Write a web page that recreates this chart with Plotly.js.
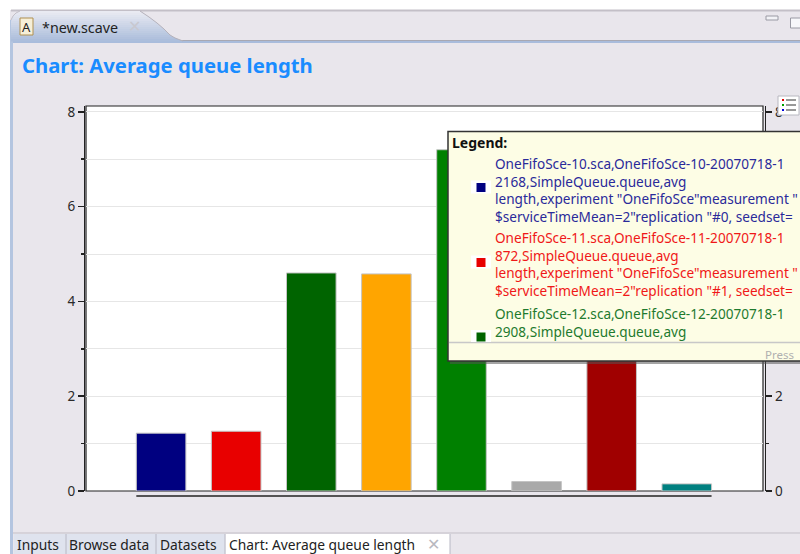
<!DOCTYPE html>
<html><head><meta charset="utf-8">
<script src="https://cdn.plot.ly/plotly-3.0.1.min.js"></script>
<style>html,body{margin:0;padding:0;overflow:hidden;background:#e9e6ec}#c{width:800px;height:554px}</style>
</head><body><div id="c"></div>
<script>
const categories = [0,1,2,3,4,5,6,7];
const values = [1.22,1.26,4.6,4.58,7.2,0.2,4.6,0.15];
const barColors = ['#000080','#e80000','#006400','#ffa500','#008000','#a9a9a9','#a00000','#008080'];
const rightTicks = [0,2,8];
const legendBlue = ['OneFifoSce-10.sca,OneFifoSce-10-20070718-1','2168,SimpleQueue.queue,avg','length,experiment "OneFifoSce"measurement "','$serviceTimeMean=2"replication "#0, seedset='];
const legendRed = ['OneFifoSce-11.sca,OneFifoSce-11-20070718-1','872,SimpleQueue.queue,avg','length,experiment "OneFifoSce"measurement "','$serviceTimeMean=2"replication "#1, seedset='];
const legendGreen = ['OneFifoSce-12.sca,OneFifoSce-12-20070718-1','2908,SimpleQueue.queue,avg'];
const bottomTabs = ['Inputs','Browse data','Datasets','Chart: Average queue length'];
const FONT = '"Noto Sans", sans-serif';

const L=84,R=35,T=106,B=63,W=681,H=385;
const px=x=>(x-L)/W, py=y=>(554-B-y)/H;
const shapes=[], annos=[];
function rect(x0,y0,x1,y1,fill,line,lw,layer){shapes.push({type:'rect',xref:'paper',yref:'paper',x0:px(x0),x1:px(x1),y0:py(y0),y1:py(y1),fillcolor:fill,line:{color:line||fill,width:line?(lw||1):0},layer:layer||'above'});}
function seg(x0,y0,x1,y1,c,w,layer){shapes.push({type:'line',xref:'paper',yref:'paper',x0:px(x0),x1:px(x1),y0:py(y0),y1:py(y1),line:{color:c,width:w||1},layer:layer||'above'});}
function poly(pts,fill,line,lw){shapes.push({type:'path',xref:'paper',yref:'paper',path:'M'+pts.map(p=>px(p[0])+','+py(p[1])).join('L')+(fill?'Z':''),fillcolor:fill||'rgba(0,0,0,0)',line:{color:line||'rgba(0,0,0,0)',width:line?(lw||1):0},layer:'above'});}
function label(x,y,t,c,s,b,anchor){annos.push({xref:'paper',yref:'paper',x:px(x),y:py(y),text:b?'<b>'+t+'</b>':t,showarrow:false,xanchor:anchor||'left',yanchor:'middle',align:'left',borderpad:0,font:{family:FONT,size:s,color:c}});}

// outer white margin
rect(0,0,800,10,'#ffffff'); rect(0,0,10,554,'#ffffff');
// frame of the editor
seg(11,10.5,800,10.5,'#c3bfc7',2);
rect(12,40,800,41,'#a8a8b2');
rect(12,41,800,43,'#a9bcdc');
seg(11.5,20,11.5,554,'#b4c5e0',3);
// top tab with gradient bands following the tab outline
const rightCurve=[[11,140],[17,149],[23,157],[29,164],[35,170],[38,175],[41,183]];
const leftCurve=[[11,20],[13,16],[16,13],[20,11],[41,11]];
function lerp(tbl,y){for(let i=1;i<tbl.length;i++){if(y<=tbl[i][0]){const a=tbl[i-1],b=tbl[i];return a[1]+(b[1]-a[1])*(y-a[0])/(b[0]-a[0]);}}return tbl[tbl.length-1][1];}
for(let y=11;y<41;y+=2){
  const t=(y-11)/30,c=[233-65*t,234-47*t,242-24*t].map(Math.round);
  poly([[lerp(leftCurve,y),y],[lerp(rightCurve,y),y],[lerp(rightCurve,y+2.5),y+2.5],[lerp(leftCurve,y+2.5),y+2.5]],'rgb('+c.join(',')+')');
}
poly(rightCurve.map(p=>[p[1],p[0]]),null,'#b5b2bb',1);
poly(leftCurve.slice(0,4).map(p=>[p[1],p[0]]),null,'#c3bfc7',1);
// tab icon
rect(20,18,33,35,'#f6efd8','#b09050',1);
label(21,27,'A','#222222',13);
label(41,27.5,'*new.scave','#222222',14.3);
label(127,26,'✕','#c8c8d0',16);
// window buttons
rect(766,16,778,20,'#f2f2f6','#9a9aa4',1);
rect(790.5,18,802,28,'#f7f7fa','#9a9aa4',1);
// title
label(21,64.5,'Chart: Average queue length','#1a8cff',20.3,true);
// inner frame of the plot
rect(86,106,763,491,'rgba(0,0,0,0)','#222222',1.2,'below');
// free x axis line beneath the bars
shapes.push({type:'line',xref:'x',yref:'paper',x0:-0.33,x1:7.33,y0:py(496),y1:py(496),line:{color:'#222222',width:1.5},layer:'above'});
// legend icon
rect(778,96,799,115,'#ffffff','#b8b8c0',1);
[[100,'#e00000'],[105,'#00a000'],[110,'#0000e0']].forEach(r=>{rect(782,r[0]-1,784,r[0]+1,r[1]);seg(786,r[0],796,r[0],'#333333',1);});
// legend popup
rect(450,134,803,364,'#55555588');
rect(448,131.5,803,361,'#fdfde5','#333333',1.5);
seg(449,342.5,800,342.5,'#c8c8c8',1.5);
label(451,142,'Legend:','#111111',14,true);
function block(lines,cy,c,sq,sy){label(494,cy,lines.join('<br>'),c,13.6);rect(471,sy-7,491,sy+6,'#ffffff');rect(476.5,sy-4.5,485.5,sy+4.5,sq);}
block(legendBlue,189.5,'#2a2a9a',barColors[0],187.5);
block(legendRed,264,'#f01818',barColors[1],262.5);
block(legendGreen,322,'#1e7a2e',barColors[2],337);
rect(471,342,491,343,'#c8c8c8');
label(764,354,'Press','#b0b0b0',11.5);
// bottom tabs
seg(13,533,800,533,'#c3bfc7',1);
rect(14,534,225,554,'#dfe3ee');
rect(225.5,534,450,554,'#ffffff');
[66,156,225,450].forEach(x=>seg(x,534,x,554,'#b8b8c4',1));
[16,68,159,228].forEach((x,i)=>label(x,544.5,bottomTabs[i],'#222222',13.8));
label(426,544,'✕','#b8b8c0',16);

const bar={type:'bar',x:categories,y:values,width:0.66,marker:{color:barColors,line:{color:'#c4c4c4',width:1}},hoverinfo:'skip',showlegend:false};
const ghost={type:'bar',x:categories,y:values,yaxis:'y2',width:0.66,marker:{color:'rgba(0,0,0,0)'},hoverinfo:'skip',showlegend:false};
const yrange=[0,385/47.4];
const ax={range:yrange,ticks:'outside',ticklen:6,tickcolor:'#222',tickwidth:1.5,showline:true,linecolor:'#222',linewidth:1.2,
  tickfont:{family:FONT,size:13.5,color:'#2a2a2a'},zeroline:false,anchor:'free',
  minor:{dtick:1,tick0:0,ticks:'outside',ticklen:3,tickcolor:'#222',showgrid:false}};
Plotly.newPlot('c',[bar,ghost],{
  width:800,height:554,margin:{l:L,r:R,t:T,b:B,pad:0},
  paper_bgcolor:'#e9e6ec',plot_bgcolor:'#ffffff',showlegend:false,barmode:'overlay',
  xaxis:{domain:[2/W,679/W],range:[-1,8.015],showticklabels:false,ticks:'',showgrid:false,zeroline:false,showline:false},
  yaxis:Object.assign({},ax,{dtick:2,tick0:0,position:0,side:'left',showgrid:true,gridcolor:'#e6e6e6',gridwidth:1,
     minor:Object.assign({},ax.minor,{showgrid:true,gridcolor:'#e6e6e6',gridwidth:1})}),
  yaxis2:Object.assign({},ax,{tickmode:'array',tickvals:rightTicks,ticktext:rightTicks.map(String),position:1,side:'right',overlaying:'y',showgrid:false}),
  shapes:shapes,annotations:annos
},{displayModeBar:false,staticPlot:true});
</script></body></html>
